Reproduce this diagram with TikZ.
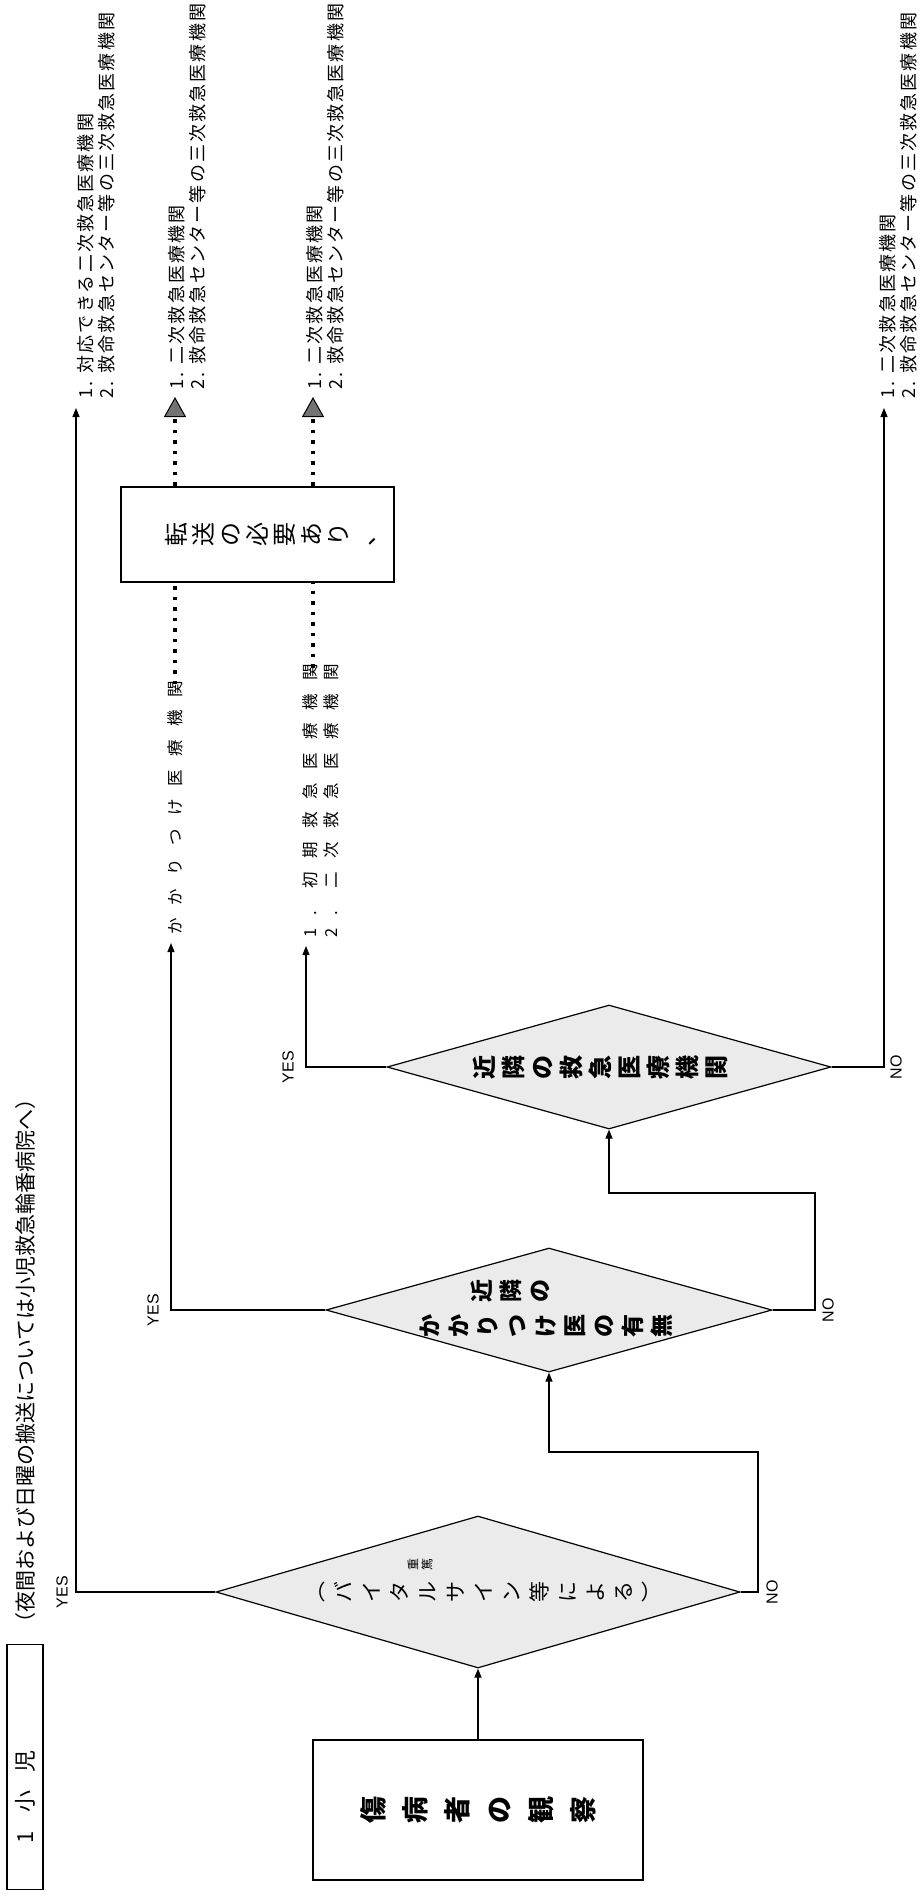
\documentclass[tikz,border=0pt]{standalone}
\usepackage{fontspec}
\setmainfont{Liberation Sans}
\newfontfamily\jp{Noto Sans CJK JP}
\newfontfamily\jpls{Noto Sans CJK JP}[LetterSpace=12]
\newfontfamily\jpsp{Noto Sans CJK JP}[LetterSpace=80]
\usetikzlibrary{arrows.meta,shapes.geometric}
\begin{document}
\begin{tikzpicture}[x=1pt,y=-1pt,
  thin/.style={line width=1.2pt},
  arr/.style={thin,-{Triangle[length=9pt,width=7pt]}},
  dotl/.style={line width=3.5pt,dash pattern=on 3.5pt off 7pt},
  dota/.style={dotl,-{Triangle[length=20pt,width=22pt,fill=black!55,line width=1pt]}},
  dia/.style={draw,shape=diamond,fill=black!8,line width=1.2pt,inner sep=0pt},
  lbl/.style={font=\fontsize{16}{16}\selectfont,rotate=90,inner sep=0pt},
  lst/.style={font=\jpls\fontsize{18}{21}\selectfont,rotate=90,align=left,inner sep=0pt,anchor=north west},
  lstsp/.style={lst,font=\jpsp\fontsize{16.5}{21}\selectfont},
  stk/.style={rotate=90,align=center,inner sep=0pt}]
\useasboundingbox (0,0) rectangle (920,1898);
% header
\node[draw,line width=1.6pt,minimum width=36pt,minimum height=245pt,inner sep=0pt] (hb) at (25,1767) {};
\node[rotate=90,inner sep=0pt,font=\jp\fontsize{22}{22}\selectfont] (ht) at (25,1797) {1\hspace{18pt}小\hspace{18pt}児};
\node[rotate=90,anchor=west,inner sep=0pt,font=\jp\fontsize{21}{21}\selectfont] (hn) at (26,1634) {（夜間および日曜の搬送については小児救急輪番病院へ）};
% start box
\node[draw,line width=2.2pt,minimum width=330pt,minimum height=140pt] (b1) at (478,1810) {};
\node[stk,font=\jp\bfseries\fontsize{27}{42}\selectfont] (b1t) at (b1.center) {傷\\病\\者\\の\\観\\察};
% diamond 1
\node[dia,minimum width=524pt,minimum height=152pt] (d1) at (478,1592) {};
\node[stk,font=\jp\fontsize{21}{28}\selectfont] (d1t) at (490,1592) {︵\\バ\\イ\\タ\\ル\\サ\\イ\\ン\\等\\に\\よ\\る\\︶};
\node[stk,font=\jp\fontsize{12}{14}\selectfont] (d1r) at (420,1564) {重\\篤};
% diamond 2
\node[dia,minimum width=446pt,minimum height=124pt] (d2) at (549,1310) {};
\node[stk,font=\jp\bfseries\fontsize{23}{29}\selectfont] (d2a) at (510,1291) {近\\隣\\の};
\node[stk,font=\jp\bfseries\fontsize{23}{29}\selectfont] (d2b) at (546,1326) {か\\か\\り\\つ\\け\\医\\の\\有\\無};
% diamond 3
\node[dia,minimum width=444pt,minimum height=124pt] (d3) at (609,1067) {};
\node[stk,font=\jp\bfseries\fontsize{24}{29}\selectfont] (d3t) at (600,1067) {近\\隣\\の\\救\\急\\医\\療\\機\\関};
% transfer box
\node[draw,line width=2.4pt,minimum width=273pt,minimum height=95pt] (b2) at (257.5,534.5) {};
\node[stk,font=\jp\fontsize{24}{27}\selectfont] (b2t) at (271,534) {転\\送\\の\\必\\要\\あ\\り\\、};
% lists
\node[lst] (L1) at (77,399) {1. 対応できる二次救急医療機関\\2. 救命救急センター等の三次救急医療機関};
\node[lst] (L2) at (168,390) {1. 二次救急医療機関\\2. 救命救急センター等の三次救急医療機関};
\node[lstsp] (L3) at (167,935) {かかりつけ医療機関};
\node[lstsp] (L4) at (302,938) {1. 初期救急医療機関\\2. 二次救急医療機関};
\node[lst] (L5) at (306,390) {1. 二次救急医療機関\\2. 救命救急センター等の三次救急医療機関};
\node[lst] (L6) at (879,399) {1. 二次救急医療機関\\2. 救命救急センター等の三次救急医療機関};
% coordinates
\coordinate (t1) at (76,408);
\coordinate (t3) at (171,943);
\coordinate (t4) at (306,946);
\coordinate (t6) at (884,408);
\coordinate (k1) at (758,1452);
\coordinate (k2) at (815,1193);
\coordinate (dA) at (175,0);
\coordinate (dB) at (313,0);
% connectors
\draw[arr] (b1.north) -- (d1.south);
\draw[arr] (d1.west) -| (t1);
\draw[arr] (d1.east) -| (k1) -| (d2.south);
\draw[arr] (d2.west) -| (t3);
\draw[arr] (d2.east) -| (k2) -| (d3.south);
\draw[arr] (d3.west) -| (t4);
\draw[arr] (d3.east) -| (t6);
\draw[dotl] ([yshift=-4pt]L3.east -| dA) -- (b2.south -| dA);
\draw[dota] (b2.north -| dA) -- ([yshift=-7pt]L2.west -| dA);
\draw[dotl] ([yshift=-4pt]L4.east -| dB) -- (b2.south -| dB);
\draw[dota] (b2.north -| dB) -- ([yshift=-7pt]L5.west -| dB);
% labels
\node[lbl] (y1) at (62,1592) {YES};
\node[lbl] (y2) at (153,1310) {YES};
\node[lbl] (y3) at (288,1067) {YES};
\node[lbl] (n1) at (772,1592) {NO};
\node[lbl] (n2) at (828,1310) {NO};
\node[lbl] (n3) at (896,1067) {NO};
\end{tikzpicture}
\end{document}
